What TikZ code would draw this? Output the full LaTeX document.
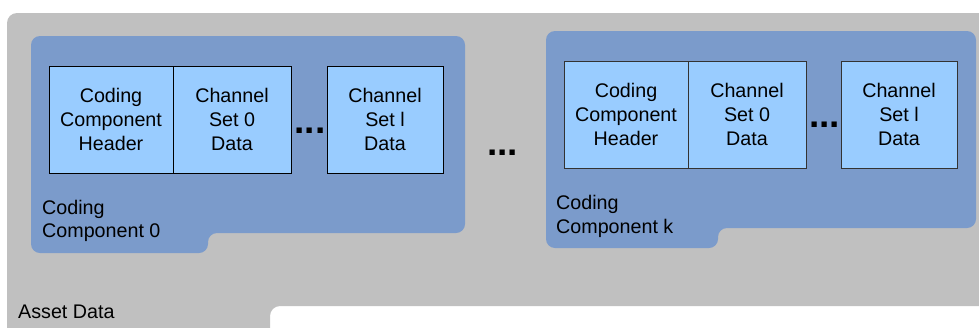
\documentclass[tikz,border=0pt]{standalone}
\usepackage{fontspec}
\setmainfont{Liberation Sans}
\definecolor{bggray}{HTML}{C0C0C0}
\definecolor{ccblue}{HTML}{7B9BCB}
\definecolor{cellblue}{HTML}{99CCFF}
\begin{document}
\begin{tikzpicture}[x=1pt,y=-1pt,
  cell/.style={draw=black, line width=0.9pt, fill=cellblue, minimum height=107pt, inner sep=0pt, align=center, font=\fontsize{19.7}{23.7}\selectfont},
  cellk/.style={cell, draw=black!80},
  lbl/.style={inner sep=0pt, align=left, anchor=west, font=\fontsize{19.7}{23.7}\selectfont},
  dots/.style={inner sep=0pt, anchor=base, font=\fontsize{37}{37}\selectfont\bfseries}]
\useasboundingbox (0,0) rectangle (979,327);
\clip (0,0) rectangle (979,327);
% asset data background
\fill[bggray, rounded corners=10pt] (7,345) -- (7,13) -- (995,13) -- (995,306) -- (270,306) -- (270,345) -- cycle;
\node[inner sep=0pt, anchor=base west, font=\fontsize{19.7}{23.7}\selectfont] (asset) at (18,318) {Asset Data};
% coding component 0
\fill[ccblue, rounded corners=9pt] (31,36) -- (465,36) -- (465,233) -- (208,233) -- (208,253) -- (31,253) -- cycle;
\node[cell, minimum width=124pt] (h0) at (111,119.5) {Coding\\Component\\Header};
\node[cell, minimum width=118pt] (c00) at (232,119.5) {Channel\\Set 0\\Data};
\node[dots] (d0) at (310,133.5) {...};
\node[cell, minimum width=116pt] (c0l) at (385,119.5) {Channel\\Set l\\Data};
\node[lbl] (l0) at (42,221) {Coding\\Component 0};
% middle dots
\node[dots] (dm) at (502.5,155) {...};
% coding component k
\fill[ccblue, rounded corners=9pt] (546,31) -- (976,31) -- (976,228) -- (718,228) -- (718,248) -- (546,248) -- cycle;
\node[cellk, minimum width=124pt] (hk) at (626,114.5) {Coding\\Component\\Header};
\node[cellk, minimum width=118pt] (ck0) at (747,114.5) {Channel\\Set 0\\Data};
\node[dots] (dk) at (824.5,127.5) {...};
\node[cellk, minimum width=116pt] (ckl) at (899,114.5) {Channel\\Set l\\Data};
\node[lbl] (lk) at (556,216.5) {Coding\\Component k};
\end{tikzpicture}
\end{document}
